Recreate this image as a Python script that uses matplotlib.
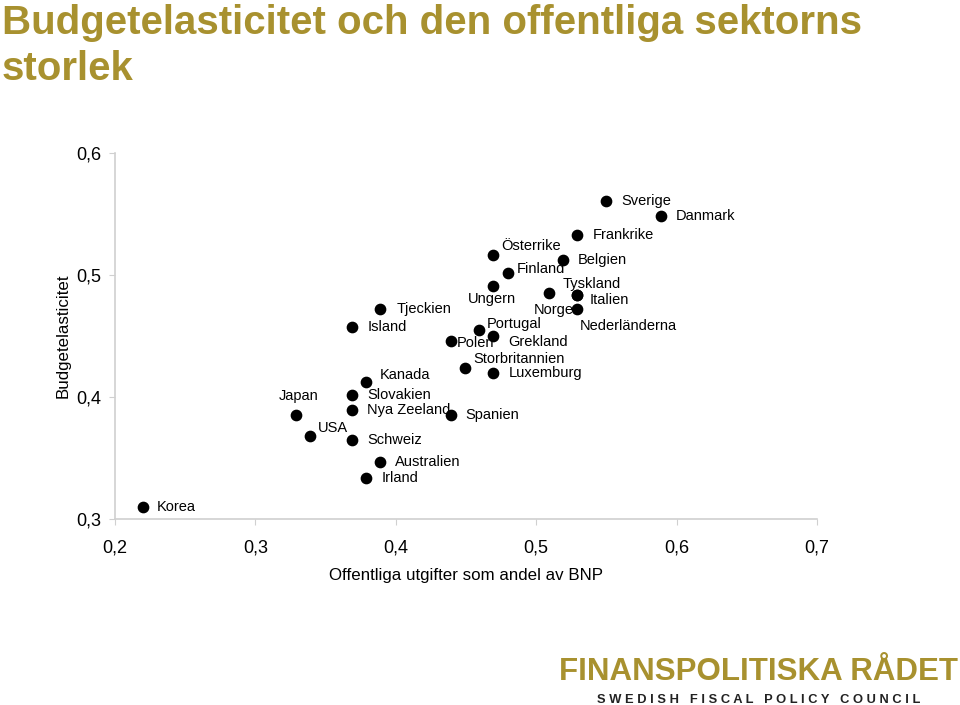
import matplotlib
matplotlib.use("Agg")
import matplotlib.pyplot as plt
from matplotlib.ticker import FuncFormatter

plt.rcParams['font.family'] = ['Liberation Sans', 'DejaVu Sans']

# data
countries = ['Korea', 'Japan', 'USA', 'Kanada', 'Slovakien', 'Nya Zeeland', 'Schweiz',
             'Australien', 'Irland', 'Island', 'Tjeckien', 'Spanien', 'Polen',
             'Storbritannien', 'Luxemburg', 'Portugal', 'Grekland', 'Ungern', 'Finland',
             'Österrike', 'Norge', 'Belgien', 'Tyskland', 'Italien', 'Nederländerna',
             'Frankrike', 'Sverige', 'Danmark']
utgifter = [0.220, 0.329, 0.339, 0.379, 0.369, 0.369, 0.369,
            0.389, 0.379, 0.369, 0.389, 0.439, 0.439,
            0.449, 0.469, 0.459, 0.469, 0.469, 0.480,
            0.469, 0.509, 0.519, 0.529, 0.529, 0.529,
            0.529, 0.550, 0.589]
elasticitet = [0.310, 0.385, 0.368, 0.412, 0.402, 0.389, 0.365,
               0.347, 0.334, 0.457, 0.472, 0.385, 0.446,
               0.424, 0.420, 0.455, 0.450, 0.491, 0.502,
               0.516, 0.485, 0.512, 0.484, 0.484, 0.472,
               0.533, 0.561, 0.548]

# label offsets in pixels (dx, dy)
offsets = [(14, 0), (-17, 19), (8, 8), (13, 7), (15, 0), (15, 0), (15, 0),
           (15, 0), (15, 0), (15, 0), (16, 0), (15, 0), (6, -2),
           (9, 9), (16, 0), (8, 6), (16, -6), (-25, -13), (9, 4),
           (9, 9), (-15, -17), (15, 0), (-14, 11), (13, -5), (3, -17),
           (16, 0), (15, 0), (15, 0)]

gold = '#A8912F'
grey = '#d0d0d0'

fig = plt.figure(figsize=(9.6, 7.05), dpi=100)
ax = fig.add_axes([115/960, 1-519/705, (817-115)/960, (519-153)/705])

ax.scatter(utgifter, elasticitet, s=55, color='black', zorder=3)
for name, x, y, (dx, dy) in zip(countries, utgifter, elasticitet, offsets):
    ax.annotate(name, (x, y), xytext=(dx, dy), textcoords='offset pixels',
                ha='left', va='center', fontsize=10.5)

ax.set_xlim(0.2, 0.7)
ax.set_ylim(0.3, 0.6)
ax.set_xticks([0.2, 0.3, 0.4, 0.5, 0.6, 0.7])
ax.set_yticks([0.3, 0.4, 0.5, 0.6])
fmt = FuncFormatter(lambda v, p: ('%.1f' % v).replace('.', ','))
ax.xaxis.set_major_formatter(fmt)
ax.yaxis.set_major_formatter(fmt)
ax.tick_params(labelsize=13, color=grey, length=4)
ax.tick_params(axis='x', pad=11)
ax.tick_params(axis='y', pad=6)
for s in ['top', 'right']:
    ax.spines[s].set_visible(False)
for s in ['left', 'bottom']:
    ax.spines[s].set_color(grey)
    ax.spines[s].set_linewidth(1.2)

ax.set_xlabel('Offentliga utgifter som andel av BNP', fontsize=12.2, labelpad=8)
ax.set_ylabel('Budgetelasticitet', fontsize=12.2, labelpad=4)

fig.text(0.002, 0.994, 'Budgetelasticitet och den offentliga sektorns\nstorlek',
         color=gold, fontsize=29, fontweight='bold', ha='left', va='top',
         linespacing=1.27)

fig.text(0.790, 0.047, 'FINANSPOLITISKA RÅDET', color=gold, fontsize=22.5,
         fontweight='bold', ha='center', va='center')
fig.text(0.790, 0.007, 'S W E D I S H   F I S C A L   P O L I C Y   C O U N C I L',
         color='#222222', fontsize=9.3, fontweight='bold', ha='center', va='center')

fig.savefig('out.png', dpi=100)
